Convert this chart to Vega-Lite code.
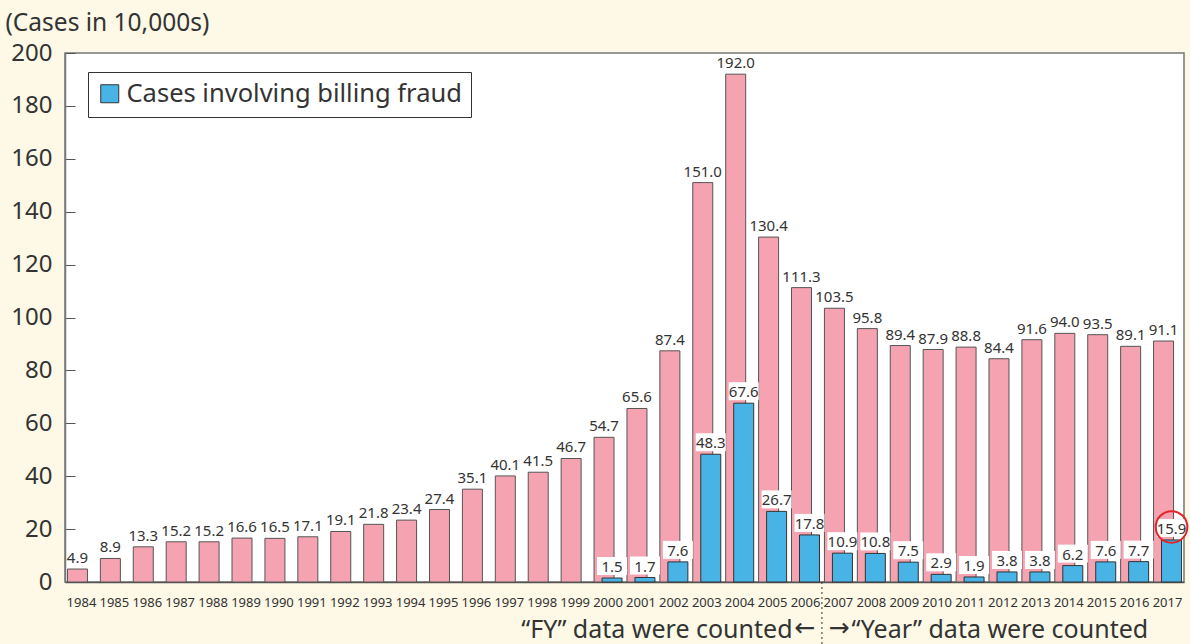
{
  "$schema": "https://vega.github.io/schema/vega-lite/v6.json",
  "width": 1119,
  "height": 529,
  "autosize": "none",
  "padding": {"left": 65, "top": 53, "right": 6, "bottom": 62},
  "background": "#fdf9e6",
  "config": {
    "view": {"fill": "white", "stroke": "#777", "strokeWidth": 1.5},
    "font": "Noto Sans",
    "axis": {"grid": false}
  },
  "data": {"values": [
    {"year": "1984", "series": "total", "value": 4.9},
    {"year": "1985", "series": "total", "value": 8.9},
    {"year": "1986", "series": "total", "value": 13.3},
    {"year": "1987", "series": "total", "value": 15.2},
    {"year": "1988", "series": "total", "value": 15.2},
    {"year": "1989", "series": "total", "value": 16.6},
    {"year": "1990", "series": "total", "value": 16.5},
    {"year": "1991", "series": "total", "value": 17.1},
    {"year": "1992", "series": "total", "value": 19.1},
    {"year": "1993", "series": "total", "value": 21.8},
    {"year": "1994", "series": "total", "value": 23.4},
    {"year": "1995", "series": "total", "value": 27.4},
    {"year": "1996", "series": "total", "value": 35.1},
    {"year": "1997", "series": "total", "value": 40.1},
    {"year": "1998", "series": "total", "value": 41.5},
    {"year": "1999", "series": "total", "value": 46.7},
    {"year": "2000", "series": "total", "value": 54.7},
    {"year": "2001", "series": "total", "value": 65.6},
    {"year": "2002", "series": "total", "value": 87.4},
    {"year": "2003", "series": "total", "value": 151.0},
    {"year": "2004", "series": "total", "value": 192.0},
    {"year": "2005", "series": "total", "value": 130.4},
    {"year": "2006", "series": "total", "value": 111.3},
    {"year": "2007", "series": "total", "value": 103.5},
    {"year": "2008", "series": "total", "value": 95.8},
    {"year": "2009", "series": "total", "value": 89.4},
    {"year": "2010", "series": "total", "value": 87.9},
    {"year": "2011", "series": "total", "value": 88.8},
    {"year": "2012", "series": "total", "value": 84.4},
    {"year": "2013", "series": "total", "value": 91.6},
    {"year": "2014", "series": "total", "value": 94.0},
    {"year": "2015", "series": "total", "value": 93.5},
    {"year": "2016", "series": "total", "value": 89.1},
    {"year": "2017", "series": "total", "value": 91.1},
    {"year": "2000", "series": "fraud", "value": 1.5},
    {"year": "2001", "series": "fraud", "value": 1.7},
    {"year": "2002", "series": "fraud", "value": 7.6},
    {"year": "2003", "series": "fraud", "value": 48.3},
    {"year": "2004", "series": "fraud", "value": 67.6},
    {"year": "2005", "series": "fraud", "value": 26.7},
    {"year": "2006", "series": "fraud", "value": 17.8},
    {"year": "2007", "series": "fraud", "value": 10.9},
    {"year": "2008", "series": "fraud", "value": 10.8},
    {"year": "2009", "series": "fraud", "value": 7.5},
    {"year": "2010", "series": "fraud", "value": 2.9},
    {"year": "2011", "series": "fraud", "value": 1.9},
    {"year": "2012", "series": "fraud", "value": 3.8},
    {"year": "2013", "series": "fraud", "value": 3.8},
    {"year": "2014", "series": "fraud", "value": 6.2},
    {"year": "2015", "series": "fraud", "value": 7.6},
    {"year": "2016", "series": "fraud", "value": 7.7},
    {"year": "2017", "series": "fraud", "value": 15.9}
  ]},
  "encoding": {
    "x": {
      "field": "year", "type": "nominal", "sort": null,
      "scale": {"type": "band", "paddingInner": 0, "paddingOuter": 0},
      "axis": {
        "title": null, "labelAngle": 0, "ticks": false,
        "labelFont": "Noto Sans",
        "labelFontSize": 13, "labelColor": "#333", "labelPadding": 14,
        "domainColor": "#555", "domainWidth": 1.5
      }
    }
  },
  "layer": [
    {
      "transform": [{"filter": "datum.series === 'total'"}],
      "mark": {"type": "bar", "width": 20, "xOffset": -4, "color": "#f6a3b1", "stroke": "#555", "strokeWidth": 1},
      "encoding": {
        "y": {
          "field": "value", "type": "quantitative",
          "scale": {"domain": [0, 200], "nice": false},
          "axis": {
            "values": [0, 20, 40, 60, 80, 100, 120, 140, 160, 180, 200],
            "title": "(Cases in 10,000s)", "titleAngle": 0, "titleAlign": "left",
            "titleBaseline": "middle", "titleX": -60, "titleY": -30,
            "titleFontSize": 24.5, "titleFontWeight": "normal", "titleColor": "#333",
            "titleFont": "Noto Sans",
            "labelFontSize": 24, "labelColor": "#333", "labelFont": "Noto Sans",
            "tickSize": -10, "tickColor": "#555", "labelPadding": 23,
            "domainColor": "#777", "domainWidth": 1.5
          }
        }
      }
    },
    {
      "transform": [{"filter": "datum.series === 'total'"}],
      "mark": {"type": "text", "xOffset": -4, "dy": -3, "baseline": "bottom",
               "font": "Noto Sans", "fontSize": 15, "color": "#333"},
      "encoding": {
        "y": {"field": "value", "type": "quantitative"},
        "text": {"field": "value", "type": "quantitative", "format": ".1f"}
      }
    },
    {
      "transform": [{"filter": "datum.series === 'fraud'"}],
      "mark": {"type": "bar", "width": 20, "xOffset": 4, "stroke": "#333", "strokeWidth": 1},
      "encoding": {
        "y": {"field": "value", "type": "quantitative"},
        "color": {
          "datum": "Cases involving billing fraud",
          "scale": {"range": ["#48b4e6"]},
          "legend": {
            "title": null, "orient": "none", "legendX": 23, "legendY": 19,
            "symbolType": "square", "symbolSize": 324, "symbolStrokeColor": "#333",
            "symbolStrokeWidth": 1, "symbolOpacity": 1,
            "labelFontSize": 25.5, "labelColor": "#333", "labelFont": "Noto Sans",
            "labelLimit": 500, "fillColor": "white", "strokeColor": "#333",
            "padding": 9
          }
        }
      }
    },
    {
      "transform": [{"filter": "datum.series === 'fraud'"}],
      "mark": {"type": "tick", "xOffset": 4, "yOffset": -12, "thickness": 18, "size": 30, "color": "white", "opacity": 1},
      "encoding": {
        "y": {"field": "value", "type": "quantitative"}
      }
    },
    {
      "transform": [{"filter": "datum.series === 'fraud'"}],
      "mark": {"type": "text", "xOffset": 4, "dy": -3, "baseline": "bottom",
               "font": "Noto Sans", "fontSize": 15, "color": "#333"},
      "encoding": {
        "y": {"field": "value", "type": "quantitative"},
        "text": {"field": "value", "type": "quantitative", "format": ".1f"}
      }
    },
    {
      "transform": [{"filter": "datum.series === 'fraud' && datum.year === '2017'"}],
      "mark": {"type": "point", "shape": "circle", "filled": false, "size": 1000,
               "stroke": "#e3242b", "strokeWidth": 2, "xOffset": 4, "yOffset": -13, "opacity": 1},
      "encoding": {
        "y": {"field": "value", "type": "quantitative"}
      }
    },
    {
      "transform": [{"filter": "datum.series === 'total' && datum.year === '2007'"}],
      "mark": {"type": "rule", "xOffset": -16.5, "y2Offset": 62, "strokeDash": [2, 3], "color": "#333", "strokeWidth": 1},
      "encoding": {
        "y": {"datum": 0},
        "y2": {"datum": 0}
      }
    },
    {
      "transform": [{"filter": "datum.series === 'total' && datum.year === '2006'"}],
      "mark": {"type": "text", "text": "“FY” data were counted", "align": "right", "baseline": "alphabetic",
               "dx": -13, "yOffset": 56, "fontSize": 25, "color": "#333", "font": "Noto Sans"},
      "encoding": {
        "y": {"datum": 0}
      }
    },
    {
      "transform": [{"filter": "datum.series === 'total' && datum.year === '2006'"}],
      "mark": {"type": "text", "text": "←", "align": "right", "baseline": "alphabetic",
               "dx": 10, "yOffset": 54, "fontSize": 25, "color": "#333", "font": "DejaVu Sans"},
      "encoding": {
        "y": {"datum": 0}
      }
    },
    {
      "transform": [{"filter": "datum.series === 'total' && datum.year === '2007'"}],
      "mark": {"type": "text", "text": "→", "align": "left", "baseline": "alphabetic",
               "dx": -10, "yOffset": 54, "fontSize": 25, "color": "#333", "font": "DejaVu Sans"},
      "encoding": {
        "y": {"datum": 0}
      }
    },
    {
      "transform": [{"filter": "datum.series === 'total' && datum.year === '2007'"}],
      "mark": {"type": "text", "text": "“Year” data were counted", "align": "left", "baseline": "alphabetic",
               "dx": 13, "yOffset": 56, "fontSize": 25, "color": "#333", "font": "Noto Sans"},
      "encoding": {
        "y": {"datum": 0}
      }
    }
  ]
}
